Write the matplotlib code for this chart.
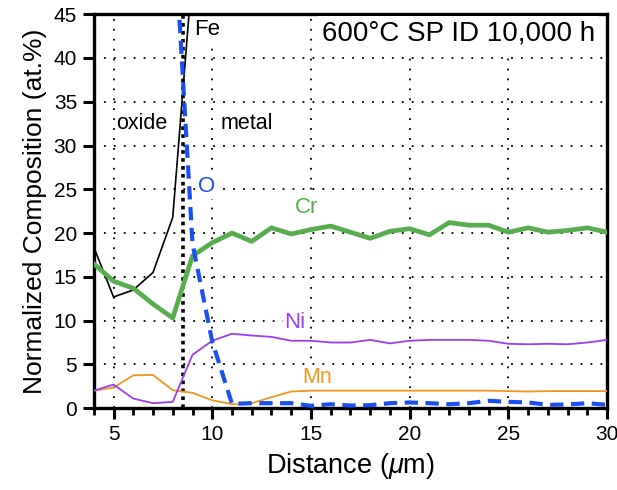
import matplotlib
matplotlib.use("Agg")
import matplotlib.pyplot as plt
from matplotlib.ticker import MultipleLocator

plt.rcParams['font.family'] = ['Liberation Sans', 'DejaVu Sans']
plt.rcParams['mathtext.fontset'] = 'custom'
plt.rcParams['mathtext.it'] = 'Liberation Sans:italic'
plt.rcParams['mathtext.rm'] = 'Liberation Sans'

distance = list(range(4, 31))
cr = [16.5, 14.5, 13.7, 11.9, 10.3, 17.4, 18.9, 20.0, 19.05, 20.6, 19.9, 20.4, 20.8,
      20.1, 19.4, 20.2, 20.5, 19.8, 21.2, 20.9, 20.9, 20.1, 20.6, 20.1, 20.3, 20.6, 20.1]
ni = [2.0, 2.7, 1.1, 0.57, 0.72, 6.1, 7.7, 8.5, 8.3, 8.14, 7.7, 7.7, 7.5, 7.5, 7.8,
      7.4, 7.7, 7.8, 7.8, 7.8, 7.7, 7.35, 7.3, 7.35, 7.3, 7.5, 7.8]
mn = [2.0, 2.35, 3.75, 3.8, 2.05, 1.75, 0.9, 0.45, 0.57, 1.25, 1.9, 2.0, 2.0, 2.0,
      2.0, 2.0, 2.0, 2.0, 2.0, 2.0, 2.0, 1.95, 1.9, 1.95, 1.95, 1.95, 1.95]
o = [57.5, 57.5, 57.5, 57.5, 57.7, 18.8, 7.6, 0.5, 0.57, 0.57, 0.57, 0.27, 0.45,
     0.3, 0.34, 0.57, 0.65, 0.57, 0.45, 0.57, 0.84, 0.72, 0.65, 0.38, 0.42, 0.57, 0.38]
fe = [18.4, 12.7, 13.5, 15.5, 21.8, 50.0, 65.0, 70.0, 70.0, 70.0, 70.0, 70.0, 70.0,
      70.0, 70.0, 70.0, 70.0, 70.0, 70.0, 70.0, 70.0, 70.0, 70.0, 70.0, 70.0, 70.0, 70.0]
interface_x = 8.5

c_cr = "#58ad4e"
c_ni = "#9a3ef2"
c_mn = "#f0961c"
c_o = "#1a4ff0"

fig = plt.figure(figsize=(6.17, 4.90), dpi=100)
ax = fig.add_axes([0.152, 0.167, 0.832, 0.804])

ax.set_xlim(4, 30)
ax.set_ylim(0, 45)

# grid
for gx in [5, 10, 15, 20, 25]:
    ax.axvline(gx, color="black", lw=1.3, ls=(0, (1, 4.5)), zorder=0)
for gy in [5, 10, 15, 20, 25, 30, 35, 40]:
    ax.axhline(gy, color="black", lw=1.3, ls=(0, (1, 4.5)), zorder=0)

ax.axvline(interface_x, color="black", lw=2.6, ls=(0, (1, 1.2)), zorder=1)

ax.plot(distance, fe, color="black", lw=1.2, zorder=3)
ax.plot(distance, mn, color=c_mn, lw=1.3, zorder=3)
ax.plot(distance, ni, color=c_ni, lw=1.3, zorder=3)
ax.plot(distance, cr, color=c_cr, lw=3.4, zorder=4)
ax.plot(distance, o, color=c_o, lw=3.0, ls=(0, (3.2, 1.8)), zorder=5)

box = dict(facecolor="white", edgecolor="none", pad=1.0)
ax.text(9.1, 43.2, "Fe", fontsize=16, color="black", va="center", ha="left",
        bbox=box, zorder=6)
ax.text(5.15, 32.5, "oxide", fontsize=15.5, color="black", va="center", ha="left",
        bbox=box, zorder=6)
ax.text(10.4, 32.5, "metal", fontsize=15.5, color="black", va="center", ha="left",
        bbox=box, zorder=6)
ax.text(9.72, 25.3, "O", fontsize=16, color=c_o, va="center", ha="center",
        bbox=box, zorder=6)
ax.text(14.8, 22.9, "Cr", fontsize=16, color=c_cr, va="center", ha="center",
        bbox=box, zorder=6)
ax.text(14.2, 9.8, "Ni", fontsize=16, color=c_ni, va="center", ha="center",
        bbox=box, zorder=6)
ax.text(15.3, 3.5, "Mn", fontsize=15.5, color=c_mn, va="center", ha="center",
        bbox=box, zorder=6)
ax.text(29.4, 42.8, "600°C SP ID 10,000 h", fontsize=20, color="black",
        va="center", ha="right", bbox=dict(facecolor="white", edgecolor="none", pad=3),
        zorder=6)

ax.xaxis.set_major_locator(MultipleLocator(5))
ax.xaxis.set_minor_locator(MultipleLocator(1))
ax.yaxis.set_major_locator(MultipleLocator(5))
ax.tick_params(axis="both", which="major", direction="out", length=8, width=2.2,
               labelsize=15, pad=4)
ax.tick_params(axis="x", which="minor", direction="out", length=5, width=2.0)

for s in ax.spines.values():
    s.set_linewidth(2.4)

ax.set_xlabel("Distance ($\\mu$m)", fontsize=19.5, labelpad=5)
ax.set_ylabel("Normalized Composition (at.%)", fontsize=19, labelpad=5)

fig.savefig("out.png", dpi=100)
